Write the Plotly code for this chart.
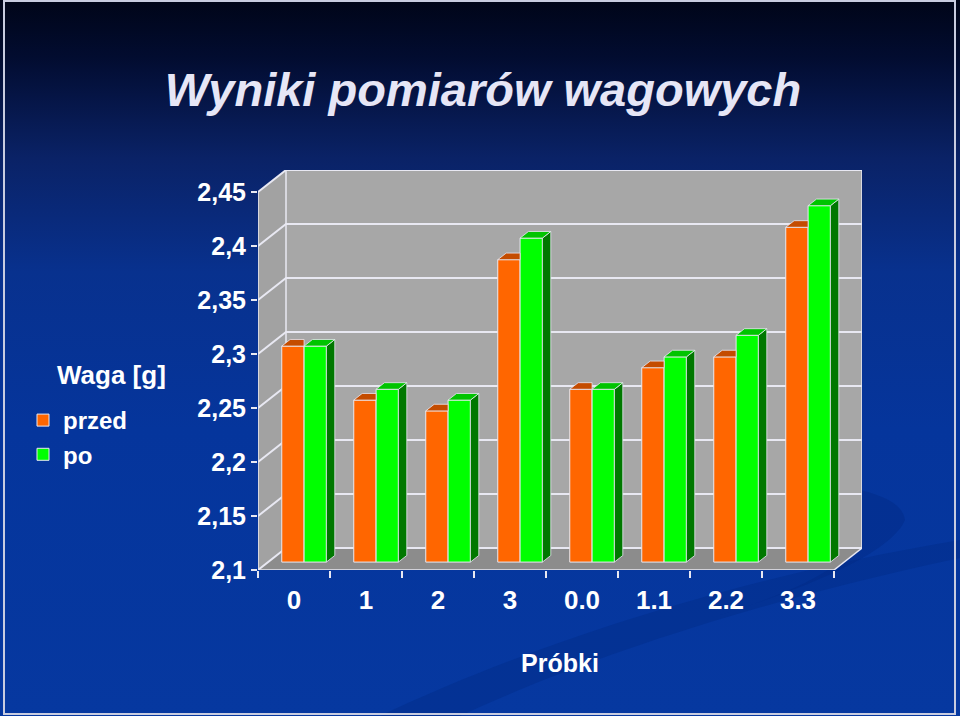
import base64
import plotly.graph_objects as go

# data
categories = ["0", "1", "2", "3", "0.0", "1.1", "2.2", "3.3"]
przed = [2.30, 2.25, 2.24, 2.38, 2.26, 2.28, 2.29, 2.41]
po = [2.30, 2.26, 2.25, 2.40, 2.26, 2.29, 2.31, 2.43]
y_ticks = [2.1, 2.15, 2.2, 2.25, 2.3, 2.35, 2.4, 2.45]
y_ticktext = ["2,1", "2,15", "2,2", "2,25", "2,3", "2,35", "2,4", "2,45"]

# 3d look: depth offset of the back wall, in axis units
n = len(categories)
Y0, Y1 = y_ticks[0], y_ticks[-1]
DX = 28 / 72
DY = 22 / 54 * 0.05
SX, SY = 0.36 * DX, 0.36 * DY   # bars sit a bit behind the front axis
A, B = 0.30 * DX, 0.30 * DY     # depth of a single bar
BW = 0.31

FONT = "Liberation Sans, Arial, sans-serif"
WHITE = "#E8E8F2"

centers = [i + 0.5 for i in range(n)]
x_przed = [c - BW / 2 for c in centers]
x_po = [c + BW / 2 for c in centers]

# background picture (gradient + swoosh) as svg
svg = """<svg xmlns='http://www.w3.org/2000/svg' width='960' height='716'>
<defs><linearGradient id='g' x1='0' y1='0' x2='0' y2='1'>
<stop offset='0' stop-color='#000518'/>
<stop offset='0.08' stop-color='#020c30'/>
<stop offset='0.22' stop-color='#0a2266'/>
<stop offset='0.38' stop-color='#08318e'/>
<stop offset='0.6' stop-color='#05359c'/>
<stop offset='1' stop-color='#0638a0'/>
</linearGradient></defs>
<rect width='960' height='716' fill='url(#g)'/>
<path d='M380,716 C520,650 720,580 960,540 L960,558 C760,600 580,660 460,716 Z' fill='#032c88' opacity='0.45'/>
<path d='M640,480 C780,478 900,480 905,520 C890,555 800,590 720,615 C820,585 870,550 860,522 C845,495 760,486 640,480 Z' fill='#022a84' opacity='0.45'/>
<rect x='4' y='1' width='951' height='713' fill='none' stroke='#c8cce0' stroke-width='2'/>
</svg>"""
bg_src = "data:image/svg+xml;base64," + base64.b64encode(svg.encode()).decode()

L, R, T, Bm = 258, 98, 170, 146
pw = 960 - L - R
ph = 716 - T - Bm

fig = go.Figure()

# front faces
fig.add_trace(go.Bar(x=x_przed, y=[v - Y0 for v in przed], base=Y0, width=BW,
                     name="przed", marker=dict(color="#FF6600", line=dict(color=WHITE, width=1)),
                     customdata=przed, hovertemplate="%{customdata}<extra>przed</extra>",
                     xaxis="x2", yaxis="y2"))
fig.add_trace(go.Bar(x=x_po, y=[v - Y0 for v in po], base=Y0, width=BW,
                     name="po", marker=dict(color="#00FF00", line=dict(color=WHITE, width=1)),
                     customdata=po, hovertemplate="%{customdata}<extra>po</extra>",
                     xaxis="x2", yaxis="y2"))

# top and side faces
tx, ty = [], []
for c, v in zip(x_przed, przed):
    xl, xr = c - BW / 2, c + BW / 2
    tx += [xl, xr, xr, xl + A, xl, None]
    ty += [v, v, v + B, v + B, v, None]
fig.add_trace(go.Scatter(x=tx, y=ty, fill="toself", fillcolor="#C44C00", mode="lines",
                         line=dict(color=WHITE, width=0.8), showlegend=False, hoverinfo="skip",
                         xaxis="x2", yaxis="y2"))

tx, ty, sx, sy = [], [], [], []
for c, v in zip(x_po, po):
    xl, xr = c - BW / 2, c + BW / 2
    tx += [xl, xr, xr + A, xl + A, xl, None]
    ty += [v, v, v + B, v + B, v, None]
    sx += [xr, xr, xr + A, xr + A, xr, None]
    sy += [Y0, v, v + B, Y0 + B, Y0, None]
fig.add_trace(go.Scatter(x=sx, y=sy, fill="toself", fillcolor="#007800", mode="lines",
                         line=dict(color=WHITE, width=0.8), showlegend=False, hoverinfo="skip",
                         xaxis="x2", yaxis="y2"))
fig.add_trace(go.Scatter(x=tx, y=ty, fill="toself", fillcolor="#00C400", mode="lines",
                         line=dict(color=WHITE, width=0.8), showlegend=False, hoverinfo="skip",
                         xaxis="x2", yaxis="y2"))

# walls, floor and grid
shapes = [
    dict(type="rect", x0=DX, x1=n + DX, y0=Y0 + DY, y1=Y1 + DY, fillcolor="#A7A7A7", line_width=0),
    dict(type="path", path=f"M0,{Y0} L{DX},{Y0 + DY} L{DX},{Y1 + DY} L0,{Y1} Z",
         fillcolor="#A2A2A2", line_width=0),
    dict(type="path", path=f"M0,{Y0} L{n},{Y0} L{n + DX},{Y0 + DY} L{DX},{Y0 + DY} Z",
         fillcolor="#8C8C8C", line_width=0),
]
for t in y_ticks:
    shapes.append(dict(type="path", path=f"M0,{t} L{DX},{t + DY} L{n + DX},{t + DY}",
                       line=dict(color=WHITE, width=2)))
for path in [f"M{DX},{Y0 + DY} L{DX},{Y1 + DY}",
             f"M{n + DX},{Y0 + DY} L{n + DX},{Y1 + DY}",
             f"M{n},{Y0} L{n + DX},{Y0 + DY}",
             f"M0,{Y0} L{n},{Y0}",
             f"M0,{Y0} L0,{Y1}"]:
    shapes.append(dict(type="path", path=path, line=dict(color=WHITE, width=1.5)))
for s in shapes:
    s.update(xref="x", yref="y", layer="below")

fig.update_layout(
    width=960, height=716,
    margin=dict(l=L, r=R, t=T, b=Bm),
    paper_bgcolor="#0638a0",
    plot_bgcolor="rgba(0,0,0,0)",
    barmode="overlay",
    shapes=shapes,
    images=[dict(source=bg_src, xref="paper", yref="paper", x=-L / pw, y=1 + T / ph,
                 sizex=960 / pw, sizey=716 / ph, sizing="stretch", xanchor="left",
                 yanchor="top", layer="below")],
    title=dict(text="Wyniki pomiarów wagowych", x=483 / 960, xanchor="center",
               y=1 - 90 / 716, yanchor="middle",
               font=dict(family=FONT, size=47, color="#E6E6F6", weight="bold", style="italic")),
    annotations=[dict(text="Waga [g]", xref="paper", yref="paper", showarrow=False,
                      x=(111 - L) / pw, y=(570 - 375) / ph, xanchor="center", yanchor="middle",
                      font=dict(family=FONT, size=26, color="white", weight="bold"))],
    legend=dict(x=(23 - L) / pw, y=(570 - 398) / ph, xanchor="left", yanchor="top",
                font=dict(family=FONT, size=24, color="white", weight="bold"),
                bgcolor="rgba(0,0,0,0)"),
    xaxis=dict(range=[0, n + DX], tickvals=centers, ticktext=categories, ticks="",
               showgrid=False, zeroline=False, showline=False, fixedrange=True,
               tickfont=dict(family=FONT, size=26, color="white", weight="bold"),
               ticklabelstandoff=12,
               minor=dict(tickvals=list(range(n + 1)), ticks="outside", ticklen=7,
                          tickcolor=WHITE, tickwidth=1.5, showgrid=False),
               title=dict(text="Próbki", standoff=40,
                          font=dict(family=FONT, size=25, color="white", weight="bold"))),
    yaxis=dict(range=[Y0, Y1 + DY], tickvals=y_ticks, ticktext=y_ticktext,
               ticks="outside", ticklen=6, tickcolor=WHITE, tickwidth=1.5,
               showgrid=False, zeroline=False, showline=False, fixedrange=True,
               tickfont=dict(family=FONT, size=25, color="white", weight="bold")),
    xaxis2=dict(range=[-SX, n + DX - SX], overlaying="x", visible=False, fixedrange=True),
    yaxis2=dict(range=[Y0 - SY, Y1 + DY - SY], overlaying="y", visible=False, fixedrange=True),
)

fig.write_html("out.html", config={"displayModeBar": False},
               post_script="document.body.style.margin='0';")
